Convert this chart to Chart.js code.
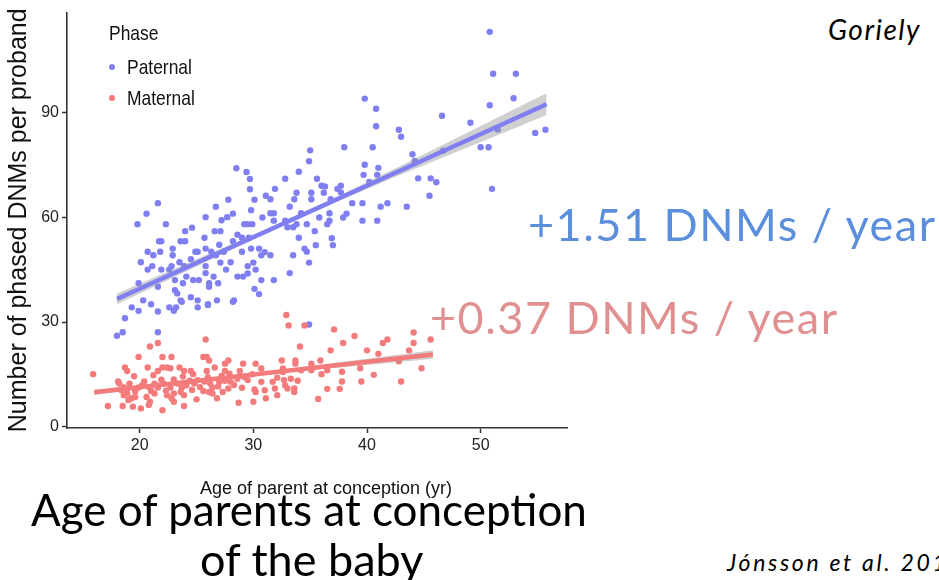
<!DOCTYPE html>
<html>
<head>
<meta charset="utf-8">
<script src="https://cdn.jsdelivr.net/npm/chart.js@4.4.1/dist/chart.umd.min.js"></script>
<style>
  body { margin: 0; width: 939px; height: 580px; overflow: hidden; background: #fff; position: relative; font-family: Lato, "Noto Sans", sans-serif; }
  #wrap { position: absolute; left: 0; top: 0; width: 580px; height: 500px; }
  .t { position: absolute; white-space: nowrap; line-height: 1; }
  .leg { position: absolute; font-family: "Liberation Sans", Arial, sans-serif; color: #111; white-space: nowrap; line-height: 1; transform: scaleX(0.83); transform-origin: left center; }
  .dot { position: absolute; width: 6px; height: 6px; border-radius: 50%; }
</style>
</head>
<body>
<div id="wrap"><canvas id="chart" width="580" height="500"></canvas></div>

<div class="leg" style="left:109px;top:22px;font-size:21px;">Phase</div>
<div class="dot" style="left:109px;top:64px;background:#7f7ff2;"></div>
<div class="leg" id="leg0" style="left:127px;top:56px;font-size:21px;"></div>
<div class="dot" style="left:109px;top:95px;background:#f47b7b;"></div>
<div class="leg" id="leg1" style="left:127px;top:87px;font-size:21px;"></div>

<div class="t" style="left:528px;top:202px;font-size:45px;letter-spacing:1.5px;color:#5b8edb;">+1.51 DNMs / year</div>
<div class="t" style="left:430px;top:295px;font-size:45px;letter-spacing:1.5px;color:#e09090;">+0.37 DNMs / year</div>
<div class="t" style="left:31px;top:487px;font-size:44px;letter-spacing:0px;color:#000;">Age of parents at conception</div>
<div class="t" style="left:200px;top:537px;font-size:45px;letter-spacing:0px;color:#000;">of the baby</div>
<div class="t" style="left:828px;top:15px;font-size:28px;letter-spacing:1.5px;word-spacing:12px;font-style:italic;color:#000;">Goriely et al.</div>
<div class="t" style="left:727px;top:551px;font-size:23px;letter-spacing:2.7px;font-style:italic;color:#000;">Jónsson et al. 2017</div>

<script>
/* ================= DATA ================= */
const seriesNames = ["Paternal", "Maternal"];
const xTicks = [20, 30, 40, 50];
const yTicks = [0, 30, 60, 90];
const xTitle = "\u2002\u2002Age of parent at conception (yr)";
const yTitle = "Number of phased DNMs per proband";

// [age, DNMs]
const paternalPoints = [
  [50.8,113.0],[51.1,101.0],[53.1,101.0],[52.9,94.0],[50.8,92.0],[46.6,89.0],[49.1,87.0],[51.5,85.1],
  [54.8,84.1],[55.7,85.0],[50.0,80.0],[50.7,80.0],[46.7,79.0],[44.0,78.0],[44.2,76.1],[44.5,71.1],
  [45.6,71.1],[46.1,70.0],[45.5,66.1],[51.0,68.1],
  [39.8,93.9],[40.8,91.0],[40.8,86.0],[42.8,85.0],[43.0,83.0],[35.0,79.1],[34.9,76.0],[38.0,80.0],
  [40.5,80.0],[39.8,75.0],[39.7,72.1],[41.0,74.1],[40.9,72.1],[35.6,71.0],[36.0,69.0],[36.3,68.8],
  [36.2,67.0],[35.1,67.0],[37.4,68.1],[37.7,69.0],[37.7,67.1],[40.2,70.1],
  [43.5,63.0],[41.8,64.0],[41.2,63.0],[40.9,59.0],[39.6,59.0],[39.6,64.0],[38.7,64.0],[38.2,61.0],
  [37.9,59.9],[35.1,65.1],[36.8,65.1],[36.7,61.1],[36.7,59.0],[36.5,58.0],[35.8,59.9],[35.4,56.0],
  [36.9,54.0],[37.0,52.0],[35.5,52.0],[34.9,47.0],[34.5,51.0],[34.7,50.1],[33.5,49.1],[33.2,44.0],
  [34.0,54.1],[34.7,58.0],[34.2,61.1],[34.0,73.0],[33.8,67.0],[33.6,65.1],[33.2,63.0],[32.8,71.0],
  [31.9,68.1],[31.1,66.1],[31.5,65.1],[31.8,61.1],[31.5,61.1],[30.8,59.9],[31.8,59.0],[32.8,59.0],
  [33.0,57.1],[33.5,57.1],[33.8,58.0],[29.9,58.0],[30.5,51.0],[31.0,50.0],[30.7,49.1],[31.5,49.1],
  [30.0,47.0],[30.2,45.0],[31.8,42.0],[30.7,42.0],[30.1,39.5],[30.5,38.0],
  [28.5,74.0],[29.4,72.9],[29.7,70.9],[29.7,68.0],[30.1,65.0],[27.8,65.0],[26.7,63.0],[21.6,64.0],
  [20.6,61.0],[19.8,58.0],[22.3,58.0],[25.8,60.0],[27.7,60.0],[28.2,61.0],[27.2,59.1],[29.8,62.0],
  [29.2,58.0],[29.5,58.0],[24.6,57.0],[24.0,56.0],[26.6,56.0],[27.1,56.0],[28.6,55.0],[29.0,54.1],
  [29.6,54.1],[25.7,54.1],[23.6,53.1],[24.0,53.1],[21.7,53.1],[21.9,53.1],[28.2,53.1],[27.0,52.1],
  [25.8,51.0],[22.9,51.0],[21.8,50.1],[20.7,50.1],[21.2,49.1],[22.9,49.1],[24.9,50.1],[25.1,50.1],
  [26.3,50.1],[26.7,49.1],[27.4,50.1],[29.0,50.1],[29.8,51.0],[24.5,48.0],[23.5,47.1],[20.1,47.1],
  [21.1,46.0],[20.7,45.0],[21.9,45.0],[22.6,45.0],[22.8,46.0],[23.9,46.0],[25.8,46.0],[27.1,47.0],
  [28.0,47.1],[29.5,46.0],[27.6,45.0],[26.5,43.0],[25.8,44.0],[24.1,43.0],[23.1,42.0],[24.7,42.0],
  [25.2,42.0],[23.8,41.1],[28.6,43.0],[29.1,43.0],[29.5,43.9],[26.1,41.1],[26.9,41.1],[26.1,40.1],
  [23.1,39.1],[23.3,38.2],[21.6,40.1],[19.9,41.1],[24.5,37.1],[25.1,36.2],[23.6,36.2],[26.8,36.2],
  [28.3,36.2],[26.0,35.1],[25.1,34.2],[22.6,34.2],[23.0,33.2],[21.0,35.1],[20.3,36.2],[21.6,33.0],
  [19.9,33.2],[19.3,34.2],[18.7,31.1],[18.5,27.1],[18.0,26.1],[21.6,27.1],
  [23.7,35.8],[28.2,35.8],[26.0,34.9],[23.2,34.2],[34.9,29.3]
];

const maternalPoints = [
  [15.9,15.1],[17.2,6.0],[18.5,6.0],[18.1,13.0],[18.7,17.0],[18.9,16.0],[19.9,20.0],[20.9,23.0],
  [21.6,24.0],[20.7,17.0],[21.6,16.0],[22.0,20.0],[22.8,20.0],[22.0,17.0],[22.4,17.0],[22.7,16.8],
  [23.5,17.0],[23.9,16.0],[24.5,16.0],[24.7,15.1],[25.6,20.0],[25.8,25.0],[25.9,20.0],[26.1,19.0],
  [25.9,16.0],[26.6,17.0],[27.5,18.1],[27.8,19.0],[27.5,16.0],[29.1,18.1],[28.8,16.0],
  [18.2,12.4],[18.6,11.3],[19.1,12.4],[19.9,11.3],[20.2,11.9],[20.8,11.4],[21.3,12.4],[21.6,11.3],
  [22.1,12.4],[22.7,11.3],[23.3,12.4],[23.7,11.3],[24.1,11.9],[24.8,12.4],[25.3,11.4],[25.7,13.0],
  [26.2,12.4],[26.4,11.3],[27.0,12.9],[27.5,13.2],[28.0,12.9],[28.6,13.8],[29.2,14.3],[29.5,13.4],
  [18.4,10.5],[19.6,10.2],[20.4,13.0],[21.0,10.3],[21.9,13.5],[22.3,10.4],[23.0,13.6],[23.6,10.0],
  [24.4,13.2],[24.6,10.6],[25.1,13.4],[26.0,14.2],[26.9,11.6],[27.2,14.6],[28.3,12.0],[29.0,11.2],
  [19.5,14.5],[21.2,14.8],[23.8,14.4],[27.9,15.2],
  [18.9,9.6],[19.3,8.2],[19.0,7.7],[19.6,8.6],[19.4,5.8],[20.1,5.3],[20.6,8.6],[20.9,7.2],
  [20.8,6.3],[21.3,9.6],[22.0,4.8],[22.4,9.1],[22.8,8.2],[23.0,7.2],[23.0,9.6],[23.9,6.0],
  [23.9,9.1],[25.0,7.9],[25.6,10.3],[26.1,10.0],[26.4,9.6],[26.8,8.2],[27.3,10.0],[27.8,11.0],
  [28.7,6.9],[18.6,9.1],
  [32.9,32.0],[33.1,29.0],[34.5,29.0],[37.1,27.9],[38.9,26.0],[44.1,27.0],[44.1,24.0],[45.6,25.0],
  [41.8,25.0],[41.4,24.0],[37.9,24.0],[34.1,23.0],[36.8,21.9],[40.0,21.9],[41.0,20.9],[43.7,21.9],
  [42.8,18.8],[44.8,16.8],[43.0,13.0],[40.6,14.9],[39.5,13.0],[39.4,16.8],[37.8,15.8],[37.8,13.0],
  [37.6,10.9],[36.5,10.9],[35.7,8.0],[35.9,19.0],[35.1,18.1],[33.7,19.0],[33.7,18.1],[32.5,19.0],
  [30.2,18.1],[36.0,15.1],[36.5,16.2],[34.2,16.2],[32.6,16.7],[30.7,16.7],[29.9,15.1],[30.7,12.9],
  [31.7,12.9],[32.1,14.1],[32.7,13.4],[33.3,13.8],[33.9,13.2],[33.6,11.0],[32.8,11.9],[31.9,11.0],
  [30.1,10.7],[31.0,10.5],[31.1,8.2],[32.1,9.1],[33.0,11.0],[33.6,10.0],[30.0,7.2],[30.2,10.0],
  [32.6,15.7],[35.1,16.2]
];

// linear fits and confidence band edges
const patFitX = [18.0, 55.8];
const patFitY = [36.6, 92.3];
const patBandX = [18.0, 36.0, 55.8];
const patBandLo = [35.1, 62.4, 89.2];
const patBandHi = [38.1, 63.8, 95.4];

const matFitX = [16.0, 45.8];
const matFitY = [9.9, 20.7];
const matBandX = [16.0, 28.0, 45.8];
const matBandLo = [9.1, 13.9, 19.5];
const matBandHi = [10.7, 14.6, 21.9];

/* ================= HELPERS ================= */
const PAT_COLOR = "#7f7ff2";
const MAT_COLOR = "#f47b7b";
const BAND_COLOR = "rgba(150,150,150,0.45)";
const SANS = '"Liberation Sans", Arial, sans-serif';

const toXY = (xs, ys) => xs.map((x, i) => ({ x: x, y: ys[i] }));
const pairs = arr => arr.map(p => ({ x: p[0], y: p[1] }));

function bandSets(xs, lo, hi) {
  const common = { type: "line", pointRadius: 0, borderWidth: 0, tension: 0.4, order: 2 };
  return [
    Object.assign({ data: toXY(xs, lo), fill: false }, common),
    Object.assign({ data: toXY(xs, hi), fill: "-1", backgroundColor: BAND_COLOR }, common)
  ];
}

document.getElementById("leg0").textContent = seriesNames[0];
document.getElementById("leg1").textContent = seriesNames[1];

/* ================= CHART ================= */
const ctx = document.getElementById("chart").getContext("2d");

new Chart(ctx, {
  type: "scatter",
  data: {
    datasets: [
      { label: seriesNames[0], data: pairs(paternalPoints), backgroundColor: PAT_COLOR, borderWidth: 0, pointRadius: 3.2, order: 5 },
      { label: seriesNames[1], data: pairs(maternalPoints), backgroundColor: MAT_COLOR, borderWidth: 0, pointRadius: 3.2, order: 4 },
      ...bandSets(patBandX, patBandLo, patBandHi),
      { type: "line", data: toXY(patFitX, patFitY), borderColor: PAT_COLOR, borderWidth: 4.5, pointRadius: 0, order: 1 },
      ...bandSets(matBandX, matBandLo, matBandHi),
      { type: "line", data: toXY(matFitX, matFitY), borderColor: MAT_COLOR, borderWidth: 4.5, pointRadius: 0, order: 1 }
    ]
  },
  options: {
    responsive: false,
    animation: false,
    devicePixelRatio: 1,
    events: [],
    layout: { padding: { top: 4, right: 13, left: 0, bottom: 0 } },
    plugins: {
      legend: { display: false },
      tooltip: { enabled: false }
    },
    scales: {
      x: {
        type: "linear",
        min: 13.6,
        max: 57.6,
        afterBuildTicks: axis => { axis.ticks = xTicks.map(v => ({ value: v })); },
        afterFit: axis => { axis.height = 72; },
        ticks: { color: "#222", padding: 3, font: { family: SANS, size: 16 } },
        grid: { drawOnChartArea: false, tickLength: 5, tickColor: "#333", tickWidth: 1.5 },
        border: { color: "#333", width: 1.6 },
        title: { display: true, text: xTitle, color: "#111", padding: 0, font: { family: SANS, size: 18 } }
      },
      y: {
        type: "linear",
        min: -0.3,
        max: 118.5,
        afterBuildTicks: axis => { axis.ticks = yTicks.map(v => ({ value: v })); },
        afterFit: axis => { axis.width = 67; },
        ticks: { color: "#222", padding: 3, font: { family: SANS, size: 16 } },
        grid: { drawOnChartArea: false, tickLength: 5, tickColor: "#333", tickWidth: 1.5 },
        border: { color: "#333", width: 1.6 },
        title: { display: true, text: yTitle, color: "#111", padding: { top: 4, bottom: 0 }, font: { family: SANS, size: 25 } }
      }
    }
  }
});
</script>
</body>
</html>
